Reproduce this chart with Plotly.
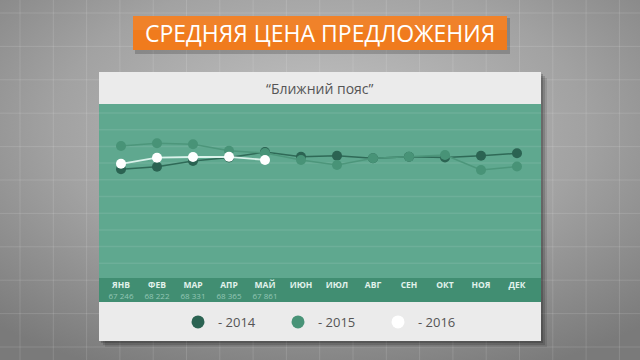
import base64
import plotly.graph_objects as go

# ---- data ----
months = ["ЯНВ", "ФЕВ", "МАР", "АПР", "МАЙ", "ИЮН", "ИЮЛ", "АВГ", "СЕН", "ОКТ", "НОЯ", "ДЕК"]
price_2014 = [66380, 66790, 67700, 68250, 69120, 68380, 68540, 68120, 68380, 68250, 68540, 68920]
price_2015 = [70080, 70510, 70350, 69330, 68970, 67850, 67060, 68120, 68380, 68650, 66260, 66820]
price_2016 = [67246, 68222, 68331, 68365, 67861]
label_2016 = ["67 246", "68 222", "68 331", "68 365", "67 861"]
series_names = ["- 2014", "- 2015", "- 2016"]

W, H = 640, 360
def px(x):
    return x / W
def py(y):
    return 1 - y / H

C2014 = "#2b6352"
C2015 = "#489377"
C2016 = "#ffffff"

fig = go.Figure()

fig.add_trace(go.Scatter(x=months, y=price_2014, mode="lines+markers",
                         line=dict(color="#2f6a57", width=1.5),
                         marker=dict(color=C2014, size=10), showlegend=False, hoverinfo="skip"))
fig.add_trace(go.Scatter(x=months, y=price_2015, mode="lines+markers",
                         line=dict(color="#4d967b", width=1.5),
                         marker=dict(color=C2015, size=10), showlegend=False, hoverinfo="skip"))
fig.add_trace(go.Scatter(x=months[:len(price_2016)], y=price_2016, mode="lines+markers",
                         line=dict(color="#d9f2ea", width=1.8),
                         marker=dict(color=C2016, size=10), showlegend=False, hoverinfo="skip"))

for name, col in zip(series_names, [C2014, C2015, C2016]):
    fig.add_trace(go.Scatter(x=[None], y=[None], mode="markers", name=name,
                             marker=dict(color=col, size=13), showlegend=True))

ticktext = []
for i, m in enumerate(months):
    if i < len(label_2016):
        ticktext.append(f"<b>{m}</b><br><span style='color:#93c6b5;font-size:8px'>{label_2016[i]}</span>")
    else:
        ticktext.append(f"<b>{m}</b><br> ")

svg = f"""<svg xmlns='http://www.w3.org/2000/svg' width='{W}' height='{H}'>
<defs><radialGradient id='g' cx='50%' cy='35%' r='75%'>
<stop offset='0%' stop-color='#c2c2c2'/><stop offset='55%' stop-color='#a2a2a2'/><stop offset='100%' stop-color='#7a7a7a'/>
</radialGradient></defs>
<rect width='{W}' height='{H}' fill='url(#g)'/></svg>"""
src = "data:image/svg+xml;base64," + base64.b64encode(svg.encode()).decode()

shapes = []
gx = 20
while gx < W:
    shapes.append(dict(type="line", xref="paper", yref="paper", x0=px(gx), x1=px(gx), y0=0, y1=1,
                       line=dict(color="rgba(255,255,255,0.13)", width=1), layer="below"))
    gx += 33.3
gy = 13
while gy < H:
    shapes.append(dict(type="line", xref="paper", yref="paper", x0=0, x1=1, y0=py(gy), y1=py(gy),
                       line=dict(color="rgba(255,255,255,0.13)", width=1), layer="below"))
    gy += 33.4

shapes.append(dict(type="rect", xref="paper", yref="paper", x0=px(135), x1=px(510), y0=py(54), y1=py(18),
                   fillcolor="rgba(0,0,0,0.18)", line=dict(width=0), layer="below"))
shapes.append(dict(type="rect", xref="paper", yref="paper", x0=px(133), x1=px(507), y0=py(50), y1=py(16),
                   fillcolor="#f07b1d", line=dict(width=0), layer="below"))
shapes.append(dict(type="rect", xref="paper", yref="paper", x0=px(133), x1=px(507), y0=py(30), y1=py(16),
                   fillcolor="rgba(255,255,255,0.06)", line=dict(width=0), layer="below"))

for off, a in [(6, 0.10), (4, 0.14), (2, 0.18)]:
    shapes.append(dict(type="rect", xref="paper", yref="paper", x0=px(99 + off), x1=px(541 + off),
                       y0=py(341 + off), y1=py(72 + off),
                       fillcolor=f"rgba(0,0,0,{a})", line=dict(width=0), layer="below"))
shapes.append(dict(type="rect", xref="paper", yref="paper", x0=px(99), x1=px(541), y0=py(341), y1=py(72),
                   fillcolor="#ebebeb", line=dict(width=0), layer="below"))
shapes.append(dict(type="rect", xref="paper", yref="paper", x0=px(99), x1=px(541), y0=py(278), y1=py(104),
                   fillcolor="#5fa88f", line=dict(width=0), layer="below"))
shapes.append(dict(type="rect", xref="paper", yref="paper", x0=px(99), x1=px(541), y0=py(302), y1=py(278),
                   fillcolor="#418e72", line=dict(width=0), layer="below"))
sy = 113
while sy < 275:
    shapes.append(dict(type="line", xref="paper", yref="paper", x0=px(99), x1=px(541), y0=py(sy), y1=py(sy),
                       line=dict(color="rgba(255,255,255,0.09)", width=1.5), layer="below"))
    sy += 16.7

annotations = [
    dict(text="СРЕДНЯЯ ЦЕНА ПРЕДЛОЖЕНИЯ", xref="paper", yref="paper", x=px(320), y=py(33),
         showarrow=False, font=dict(family="Open Sans", size=23, color="#ffffff"), xanchor="center", yanchor="middle"),
    dict(text="“Ближний пояс”", xref="paper", yref="paper", x=px(320), y=py(88),
         showarrow=False, font=dict(family="Open Sans", size=14, color="#555555"), xanchor="center", yanchor="middle"),
]

fig.update_layout(
    width=W, height=H, margin=dict(l=0, r=0, t=0, b=0),
    paper_bgcolor="#a0a0a0", plot_bgcolor="rgba(0,0,0,0)",
    images=[dict(source=src, xref="paper", yref="paper", x=0, y=1, sizex=1, sizey=1,
                 xanchor="left", yanchor="top", sizing="stretch", layer="below")],
    shapes=shapes, annotations=annotations,
    xaxis=dict(domain=[px(99), px(541)], range=[-0.611, 11.667], showgrid=False, zeroline=False,
               tickmode="array", tickvals=months, ticktext=ticktext, ticks="",
               tickfont=dict(family="Open Sans", size=8.5, color="#e2f2ec"), showline=False, fixedrange=True),
    yaxis=dict(domain=[py(278), py(104)], range=[49090, 76760], showgrid=False, zeroline=False,
               showticklabels=False, ticks="", showline=False, fixedrange=True),
    legend=dict(orientation="h", x=px(178), xanchor="left", y=py(322), yanchor="middle",
                font=dict(family="Open Sans", size=13, color="#555555"), bgcolor="rgba(0,0,0,0)",
                entrywidth=55, itemclick=False, itemdoubleclick=False),
    showlegend=True,
    hovermode=False,
)

fig.write_html("out.html", config={"displayModeBar": False, "staticPlot": True},
               post_script="document.body.style.margin='0';document.body.style.overflow='hidden';")
